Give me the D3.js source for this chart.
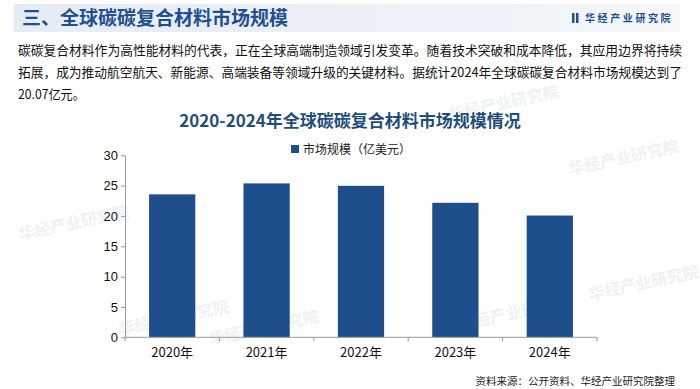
<!DOCTYPE html>
<meta charset='utf-8'>
<style>
    body { margin: 0; background: #fff; }
    svg { display: block; font-family: 'Noto Sans CJK SC', 'Liberation Sans', sans-serif; }
</style>
<body>
    <script src='https://d3js.org/d3.v7.min.js'></script>
    <script>
        var width = 700,
            height = 389;

        // data
        var years = ['2020年', '2021年', '2022年', '2023年', '2024年'];
        var marketSize = [23.56, 25.37, 24.97, 22.17, 20.07];
        var yTicks = [0, 5, 10, 15, 20, 25, 30];
        var seriesName = '市场规模（亿美元）';

        var pageTitle = '三、全球碳碳复合材料市场规模';
        var brand = '华经产业研究院';
        var paragraph = [
            '碳碳复合材料作为高性能材料的代表，正在全球高端制造领域引发变革。随着技术突破和成本降低，其应用边界将持续',
            '拓展，成为推动航空航天、新能源、高端装备等领域升级的关键材料。据统计2024年全球碳碳复合材料市场规模达到了',
            '20.07亿元。'
        ];
        var chartTitle = '2020-2024年全球碳碳复合材料市场规模情况';
        var source = '资料来源：公开资料、华经产业研究院整理';

        var svg = d3.select('body').append('svg')
            .attr('width', width)
            .attr('height', height);

        var defs = svg.append('defs');
        var grad = defs.append('linearGradient').attr('id', 'band');
        grad.append('stop').attr('offset', '0%').attr('stop-color', '#e6ecf5');
        grad.append('stop').attr('offset', '70%').attr('stop-color', '#eef2f8');
        grad.append('stop').attr('offset', '100%').attr('stop-color', '#f6f8fb');

        // header band
        svg.append('rect')
            .attr('x', 14).attr('y', 4)
            .attr('width', 666).attr('height', 28)
            .attr('fill', 'url(#band)');

        svg.append('text')
            .attr('x', 22).attr('y', 25)
            .attr('font-size', 19).attr('font-weight', 'bold')
            .attr('fill', '#1f4f8f')
            .text(pageTitle);

        // small logo mark + brand
        svg.append('rect').attr('x', 572).attr('y', 13).attr('width', 2.5).attr('height', 10).attr('fill', '#1f4f8f');
        svg.append('rect').attr('x', 576).attr('y', 13).attr('width', 2.5).attr('height', 10).attr('fill', '#1f4f8f');
        svg.append('text')
            .attr('x', 585).attr('y', 22)
            .attr('font-size', 10).attr('font-weight', 'bold')
            .attr('letter-spacing', 2.6)
            .attr('fill', '#1f4f8f')
            .text(brand);

        // paragraph
        svg.append('g').selectAll('text')
            .data(paragraph)
            .enter().append('text')
            .attr('x', 18)
            .attr('y', function(d, i) { return 55 + i * 22; })
            .attr('font-size', 13)
            .attr('fill', '#111')
            .attr('textLength', function(d, i) { return i < 2 ? 664 : 67; })
            .attr('lengthAdjust', 'spacingAndGlyphs')
            .text(function(d) { return d; });

        // faint watermarks
        var marks = [[20, 240], [210, 345], [450, 120], [570, 175], [460, 330], [590, 300], [120, 335]];
        svg.append('g').selectAll('text')
            .data(marks)
            .enter().append('text')
            .attr('x', function(d) { return d[0]; })
            .attr('y', function(d) { return d[1]; })
            .attr('transform', function(d) { return 'rotate(-12,' + d[0] + ',' + d[1] + ')'; })
            .attr('font-size', 16).attr('font-weight', 'bold')
            .attr('fill', '#eef1f5')
            .text(brand);

        // chart title
        svg.append('text')
            .attr('x', 350).attr('y', 127)
            .attr('text-anchor', 'middle')
            .attr('font-size', 17).attr('font-weight', 'bold')
            .attr('fill', '#1f4e79')
            .text(chartTitle);

        // legend
        svg.append('rect').attr('x', 291).attr('y', 145).attr('width', 8).attr('height', 8).attr('fill', '#1f4e8c');
        svg.append('text')
            .attr('x', 303).attr('y', 153.5)
            .attr('font-size', 12).attr('fill', '#222')
            .text(seriesName);

        var margin = { left: 125, right: 103, top: 155.3, bottom: 51.7 };

        var x = d3.scaleBand()
            .domain(years)
            .range([margin.left, width - margin.right])
            .paddingInner(0.51)
            .paddingOuter(0.255);

        var y = d3.scaleLinear()
            .domain([0, 30])
            .range([height - margin.bottom, margin.top]);

        svg.append('g').selectAll('rect')
            .data(marketSize)
            .enter().append('rect')
            .attr('x', function(d, i) { return x(years[i]); })
            .attr('y', function(d) { return y(d); })
            .attr('width', x.bandwidth())
            .attr('height', function(d) { return y(0) - y(d); })
            .attr('fill', '#1f4e8c');

        // y axis
        var yAxis = svg.append('g')
            .attr('transform', 'translate(' + margin.left + ',0)')
            .call(d3.axisLeft(y).tickValues(yTicks).tickSize(4).tickPadding(3).tickSizeOuter(0));
        yAxis.select('.domain').attr('stroke', '#999');
        yAxis.selectAll('.tick line').attr('stroke', '#999');
        yAxis.selectAll('text')
            .attr('font-family', 'Liberation Sans, Arial, sans-serif')
            .attr('font-size', 13).attr('fill', '#111');

        // x axis with ticks between categories
        var xAxis = svg.append('g')
            .attr('transform', 'translate(0,' + y(0) + ')');
        xAxis.append('line')
            .attr('x1', margin.left).attr('x2', width - margin.right)
            .attr('stroke', '#999');
        var step = x.step();
        xAxis.selectAll('.sep')
            .data(d3.range(years.length + 1))
            .enter().append('line')
            .attr('x1', function(d) { return margin.left + d * step; })
            .attr('x2', function(d) { return margin.left + d * step; })
            .attr('y1', 0).attr('y2', 4)
            .attr('stroke', '#999');
        xAxis.selectAll('.lbl')
            .data(years)
            .enter().append('text')
            .attr('x', function(d) { return x(d) + x.bandwidth() / 2; })
            .attr('y', 20)
            .attr('text-anchor', 'middle')
            .attr('font-size', 13).attr('fill', '#111')
            .text(function(d) { return d; });

        // source
        svg.append('text')
            .attr('x', 675).attr('y', 385)
            .attr('text-anchor', 'end')
            .attr('font-size', 10.5).attr('fill', '#222')
            .text(source);
    </script>
</body>
